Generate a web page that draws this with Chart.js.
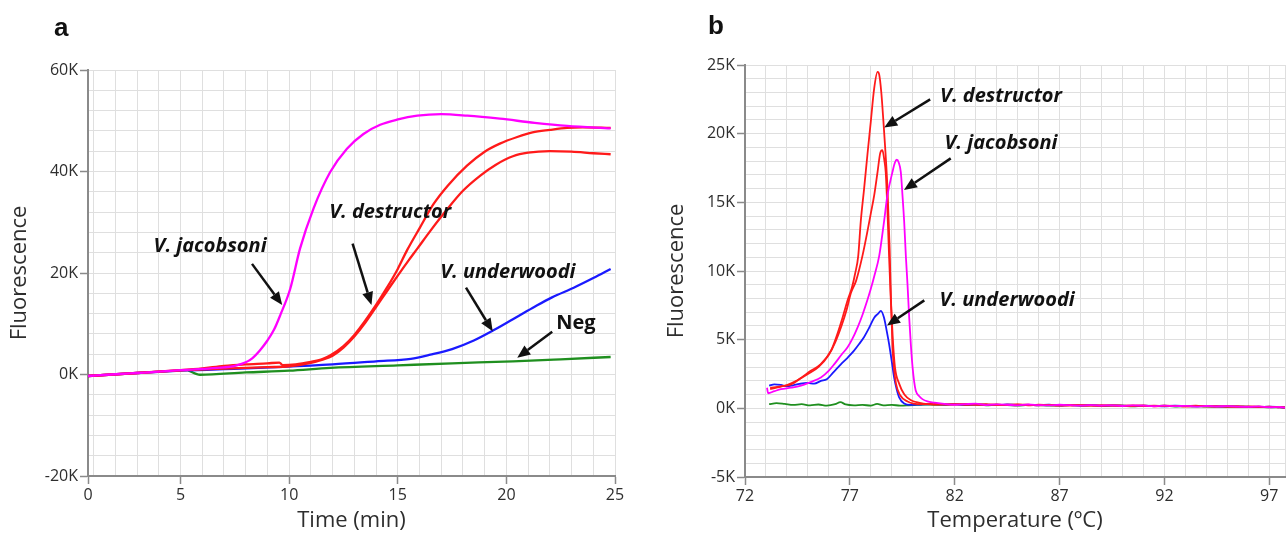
<!DOCTYPE html>
<html>
<head>
<meta charset="utf-8">
<script src="https://cdn.jsdelivr.net/npm/chart.js@4.4.0/dist/chart.umd.min.js"></script>
<style>
  html, body { margin: 0; padding: 0; background: #fff; }
  #wrap { position: relative; width: 1288px; height: 534px; overflow: hidden; }
  canvas { position: absolute; top: 0; }
  #cA { left: 0; }
  #cB { left: 640px; }
  .panel { position: absolute; font: bold 26px "Liberation Sans", Arial, sans-serif; line-height: 26px; color: #111; }
</style>
</head>
<body>
<div id="wrap">
  <canvas id="cA" width="640" height="534"></canvas>
  <canvas id="cB" width="648" height="534"></canvas>
  <div class="panel" style="left:54px; top:14px">a</div>
  <div class="panel" style="left:708px; top:12px">b</div>
</div>
<script>
// ─── panel a: amplification, fluorescence (K) vs time (min) ─────────
const tMagA = [0.74, 2, 3, 4, 5, 6, 7, 7.5, 8, 8.3, 8.66, 9, 9.3, 9.6, 10.05, 10.5, 11.12, 11.89, 12.66, 13.42, 14.19, 14.96, 15.9, 17, 18.2, 19.7, 21.3, 22.8, 24.8];
const fMagA = [-0.3, 0.05, 0.3, 0.55, 0.85, 1.1, 1.4, 1.7, 2.4, 3.2, 4.8, 6.7, 8.8, 11.8, 16.9, 24.8, 32.7, 39.9, 44.5, 47.4, 49.2, 50.2, 51.0, 51.3, 51.0, 50.4, 49.6, 49.0, 48.5];

const tRed1A = [0.74, 3, 5, 6, 7, 8, 9, 9.55, 9.7, 10.3, 11, 11.5, 11.9, 12.5, 13, 13.5, 14, 14.5, 15, 15.43, 16, 16.65, 17.3, 18.2, 19, 19.7, 20.5, 21.2, 22, 22.8, 23.5, 24.8];
const fRed1A = [-0.3, 0.3, 0.85, 1.2, 1.7, 2.0, 2.2, 2.35, 1.85, 2.0, 2.5, 3.0, 3.8, 5.6, 7.8, 10.6, 13.7, 17.1, 20.8, 24.5, 28.8, 33.6, 37.2, 41.2, 43.9, 45.5, 46.8, 47.7, 48.2, 48.6, 48.7, 48.6];

const tRed2A = [0.74, 3, 5, 7, 9, 10, 11, 11.5, 12, 12.5, 13, 13.5, 14, 14.5, 15, 15.5, 15.9, 16.5, 17.3, 18, 18.8, 19.5, 20.3, 21, 22, 23, 24, 24.8];
const fRed2A = [-0.3, 0.3, 0.8, 1.15, 1.45, 1.6, 2.3, 2.9, 3.7, 5.3, 7.5, 10.2, 13.3, 16.4, 19.5, 22.5, 24.8, 28.3, 32.7, 36.2, 39.2, 41.3, 43.0, 43.7, 44.0, 43.9, 43.6, 43.4];

const tBlueA = [0.74, 3, 5, 7, 9.7, 12, 14, 15.6, 16.5, 17.5, 18.5, 19.4, 20.3, 21.2, 22.1, 23.1, 24, 24.8];
const fBlueA = [-0.3, 0.3, 0.75, 1.05, 1.5, 2.0, 2.6, 3.1, 3.9, 5.0, 6.7, 8.7, 10.9, 13.1, 15.2, 17.1, 19.0, 20.8];

const tGreenA = [5.36, 5.9, 8, 10, 11.9, 15, 17.5, 20.3, 22.5, 24.8];
const fGreenA = [0.8, -0.05, 0.4, 0.75, 1.3, 1.8, 2.2, 2.6, 3.0, 3.45];

const xTicksA = [0.74, 5, 10, 15, 20, 25];
const xTickLabelsA = ["0", "5", "10", "15", "20", "25"];
const yTicksA = [-20, 0, 20, 40, 60];
const yTickLabelsA = ["-20K", "0K", "20K", "40K", "60K"];

// ─── panel b: melt curves, fluorescence (K) vs temperature ──────────
const tRedAB = [73.2, 73.7, 74.2, 74.7, 75.1, 75.6, 76.1, 76.4, 76.65, 76.9, 77.1, 77.25, 77.4, 77.52, 77.68, 77.84, 78.0, 78.16, 78.32, 78.4, 78.5, 78.6, 78.7, 78.8, 78.9, 78.95, 79.03, 79.1, 79.2, 79.4, 79.75, 80.4, 81.0];
const fRedAB = [1.5, 1.6, 1.75, 2.25, 2.7, 3.2, 4.2, 5.4, 6.6, 7.9, 8.8, 9.8, 11.1, 13.6, 16.0, 18.5, 20.9, 23.3, 24.5, 24.3, 23.0, 20.9, 18.6, 15.8, 11.5, 8.5, 4.6, 3.0, 1.8, 0.95, 0.5, 0.3, 0.32];

const tRedBB = [73.2, 73.5, 74.0, 74.5, 75.0, 75.5, 76.0, 76.3, 76.6, 76.85, 77.05, 77.3, 77.6, 77.84, 78.0, 78.16, 78.32, 78.45, 78.55, 78.65, 78.71, 78.79, 78.87, 78.95, 79.05, 79.15, 79.35, 79.6, 79.9, 80.5, 81.0];
const fRedBB = [1.4, 1.5, 1.7, 2.05, 2.5, 3.0, 3.9, 4.8, 6.0, 7.2, 8.4, 9.3, 11.1, 12.9, 14.2, 15.5, 17.2, 18.6, 18.8, 18.0, 17.2, 14.5, 11.1, 8.0, 5.0, 3.0, 1.8, 1.0, 0.6, 0.35, 0.28];

const tMagB = [73.05, 73.1, 73.4, 73.71, 74.2, 74.67, 75.1, 75.62, 76.0, 76.25, 76.6, 76.89, 77.1, 77.37, 77.6, 77.84, 78.0, 78.16, 78.4, 78.63, 78.79, 79.03, 79.15, 79.24, 79.33, 79.43, 79.51, 79.59, 79.67, 79.75, 79.83, 79.91, 79.99, 80.07, 80.14, 80.3, 80.46, 80.7, 81.02];
const fMagB = [1.5, 1.1, 1.25, 1.4, 1.5, 1.65, 1.9, 2.25, 2.75, 3.2, 3.9, 4.45, 5.0, 5.9, 6.8, 7.9, 8.7, 9.6, 11.1, 13.6, 15.5, 17.2, 17.9, 18.1, 17.9, 17.2, 15.5, 13.6, 11.1, 9.0, 6.6, 4.6, 3.0, 1.9, 1.3, 0.9, 0.67, 0.5, 0.42];

const tBlueB = [73.15, 73.4, 73.71, 74.0, 74.3, 74.6, 74.98, 75.3, 75.62, 75.9, 76.2, 76.57, 76.9, 77.2, 77.45, 77.68, 77.9, 78.16, 78.35, 78.48, 78.63, 78.75, 78.87, 79.0, 79.11, 79.23, 79.35, 79.59, 79.9, 80.4, 81.0];
const fBlueB = [1.65, 1.75, 1.7, 1.6, 1.68, 1.78, 1.85, 1.8, 2.0, 2.12, 2.6, 3.2, 3.7, 4.2, 4.7, 5.2, 5.8, 6.6, 6.9, 7.1, 6.6, 5.7, 4.7, 3.4, 2.25, 1.4, 0.8, 0.35, 0.25, 0.28, 0.3];

const tGreenB = [73.15, 73.5, 73.9, 74.3, 74.7, 75.1, 75.5, 75.9, 76.3, 76.55, 76.8, 77.2, 77.6, 78.0, 78.3, 78.6, 79.0, 79.4, 79.8, 80.2, 80.6, 81.0];
const fGreenB = [0.3, 0.38, 0.32, 0.25, 0.3, 0.22, 0.28, 0.2, 0.3, 0.45, 0.28, 0.22, 0.25, 0.2, 0.32, 0.22, 0.25, 0.2, 0.22, 0.25, 0.28, 0.26];

// shared flat tail after the melt, one noisy trace per sample
const tailTempsB = [81.5, 82, 82.5, 83, 83.5, 84, 84.5, 85, 85.5, 86, 86.5, 87, 87.5, 88, 88.5, 89, 89.5, 90, 90.5, 91, 91.5, 92, 92.5, 93, 93.5, 94, 94.5, 95, 95.5, 96, 96.5, 97, 97.5, 97.75];
const tailRedAB = [0.3, 0.28, 0.33, 0.26, 0.3, 0.24, 0.27, 0.29, 0.22, 0.26, 0.24, 0.2, 0.25, 0.22, 0.19, 0.23, 0.2, 0.18, 0.22, 0.17, 0.2, 0.16, 0.18, 0.15, 0.19, 0.14, 0.16, 0.12, 0.15, 0.11, 0.13, 0.09, 0.1, 0.05];
const tailRedBB = [0.27, 0.31, 0.26, 0.3, 0.25, 0.28, 0.23, 0.26, 0.27, 0.21, 0.25, 0.23, 0.2, 0.24, 0.21, 0.18, 0.22, 0.2, 0.17, 0.21, 0.15, 0.19, 0.17, 0.14, 0.16, 0.17, 0.13, 0.15, 0.11, 0.14, 0.1, 0.12, 0.07, 0.06];
const tailMagB = [0.32, 0.26, 0.3, 0.34, 0.24, 0.29, 0.26, 0.22, 0.28, 0.24, 0.21, 0.26, 0.23, 0.19, 0.24, 0.2, 0.22, 0.17, 0.21, 0.19, 0.15, 0.2, 0.16, 0.18, 0.13, 0.17, 0.14, 0.16, 0.12, 0.1, 0.14, 0.08, 0.11, 0.04];
const tailBlueB = [0.28, 0.3, 0.25, 0.28, 0.27, 0.23, 0.28, 0.24, 0.25, 0.22, 0.27, 0.2, 0.23, 0.21, 0.24, 0.19, 0.21, 0.2, 0.16, 0.2, 0.18, 0.15, 0.19, 0.16, 0.14, 0.17, 0.12, 0.15, 0.13, 0.12, 0.09, 0.12, 0.08, 0.06];
const tailGreenB = [0.25, 0.29, 0.24, 0.27, 0.22, 0.26, 0.24, 0.2, 0.25, 0.23, 0.19, 0.22, 0.24, 0.18, 0.21, 0.17, 0.2, 0.19, 0.15, 0.18, 0.16, 0.19, 0.13, 0.16, 0.15, 0.12, 0.15, 0.11, 0.13, 0.1, 0.12, 0.07, 0.09, 0.04];

const xTicksB = [72, 77, 82, 87, 92, 97];
const xTickLabelsB = ["72", "77", "82", "87", "92", "97"];
const yTicksB = [-5, 0, 5, 10, 15, 20, 25];
const yTickLabelsB = ["-5K", "0K", "5K", "10K", "15K", "20K", "25K"];

const MAGENTA = "#ff00ff", RED = "#ff1a1a", BLUE = "#1a1aff", GREEN = "#1f8f1f";
const FONT = "'Open Sans', 'DejaVu Sans', sans-serif";

// ─── helpers ─────────────────────────────────────────────────────────
const pts = (xs, ys) => xs.map((x, i) => ({ x, y: ys[i] }));

// one grid line per step, plus the axis ends
function gridTicks(min, max, step) {
    const out = [{ value: min }];
    for (let v = Math.ceil(min / step - 1e-9) * step; v <= max + 1e-9; v += step) {
        if (Math.abs(v - min) > 1e-6) out.push({ value: +v.toFixed(4) });
    }
    if (Math.abs(out[out.length - 1].value - max) > 1e-6) out.push({ value: max });
    return out;
}

function axis({ min, max, step, tickVals, tickLabels, title, size, horizontal }) {
    const idx = v => tickVals.findIndex(t => Math.abs(t - v) < 1e-6);
    return {
        type: "linear",
        min, max,
        afterBuildTicks: s => { s.ticks = gridTicks(min, max, step); },
        afterFit: s => { if (horizontal) s.height = size; else s.width = size; },
        grid: {
            color: "#dfdfdf",
            lineWidth: 1,
            tickLength: 8,
            tickWidth: 1.5,
            tickColor: c => (c.tick && idx(c.tick.value) >= 0 ? "#8a8a8a" : "rgba(0,0,0,0)"),
        },
        border: { color: "#8a8a8a", width: 2 },
        ticks: {
            autoSkip: false, maxRotation: 0, minRotation: 0, padding: 2,
            color: "#2e2e2e", font: { family: FONT, size: 16 },
            callback: v => { const i = idx(v); return i < 0 ? "" : tickLabels[i]; },
        },
        title: {
            display: true, text: title, color: "#2e2e2e",
            font: { family: FONT, size: 22 }, padding: { top: 0, bottom: 0 },
        },
    };
}

function line(data, color, width) {
    return {
        data, borderColor: color, borderWidth: width,
        pointRadius: 0, fill: false, cubicInterpolationMode: "monotone",
    };
}

// ─── text + arrow annotations, placed in data coordinates ───────────
const arrowNotes = {
    id: "arrowNotes",
    afterDatasetsDraw(chart, args, opts) {
        const { ctx, scales: { x, y } } = chart;
        ctx.save();
        ctx.fillStyle = "#111";
        ctx.strokeStyle = "#111";
        ctx.textAlign = "center";
        ctx.textBaseline = "middle";
        opts.items.forEach(n => {
            ctx.font = (n.upright ? "" : "italic ") + "bold 20px " + FONT;
            ctx.fillText(n.text, x.getPixelForValue(n.at[0]), y.getPixelForValue(n.at[1]));
            const x0 = x.getPixelForValue(n.from[0]), y0 = y.getPixelForValue(n.from[1]);
            const x1 = x.getPixelForValue(n.to[0]), y1 = y.getPixelForValue(n.to[1]);
            const a = Math.atan2(y1 - y0, x1 - x0), head = 13, half = 5.5;
            const bx = x1 - head * Math.cos(a), by = y1 - head * Math.sin(a);
            ctx.lineWidth = 2.5;
            ctx.beginPath();
            ctx.moveTo(x0, y0);
            ctx.lineTo(bx, by);
            ctx.stroke();
            ctx.beginPath();
            ctx.moveTo(x1, y1);
            ctx.lineTo(bx + half * Math.sin(a), by - half * Math.cos(a));
            ctx.lineTo(bx - half * Math.sin(a), by + half * Math.cos(a));
            ctx.closePath();
            ctx.fill();
        });
        ctx.restore();
    },
};

const common = {
    responsive: false,
    animation: false,
    events: [],
    plugins: { legend: { display: false }, tooltip: { enabled: false } },
};

// ─── panel a ─────────────────────────────────────────────────────────
new Chart(document.getElementById("cA"), {
    type: "line",
    data: {
        datasets: [
            line(pts(tMagA, fMagA), MAGENTA, 2.3),
            line(pts(tRed1A, fRed1A), RED, 2.3),
            line(pts(tRed2A, fRed2A), RED, 2.3),
            line(pts(tBlueA, fBlueA), BLUE, 2.3),
            line(pts(tGreenA, fGreenA), GREEN, 2.3),
        ],
    },
    options: {
        ...common,
        layout: { padding: { left: 7, top: 70, right: 25, bottom: 0 } },
        scales: {
            x: axis({ min: 0.74, max: 25, step: 1, tickVals: xTicksA, tickLabels: xTickLabelsA, title: "Time (min)", size: 58, horizontal: true }),
            y: axis({ min: -20, max: 60, step: 4, tickVals: yTicksA, tickLabels: yTickLabelsA, title: "Fluorescence", size: 81 }),
        },
        plugins: {
            ...common.plugins,
            arrowNotes: {
                items: [
                    { text: "V. jacobsoni", at: [6.36, 25.3], from: [8.29, 21.8], to: [9.68, 13.7] },
                    { text: "V. destructor", at: [14.65, 32.0], from: [12.92, 25.8], to: [13.79, 13.7] },
                    { text: "V. underwoodi", at: [20.07, 20.2], from: [18.14, 17.1], to: [19.37, 8.5] },
                    { text: "Neg", at: [23.2, 10.0], from: [22.11, 8.4], to: [20.5, 3.3], upright: true },
                ],
            },
        },
    },
    plugins: [arrowNotes],
});

// ─── panel b ─────────────────────────────────────────────────────────
new Chart(document.getElementById("cB"), {
    type: "line",
    data: {
        datasets: [
            line(pts(tMagB.concat(tailTempsB), fMagB.concat(tailMagB)), MAGENTA, 1.8),
            line(pts(tRedAB.concat(tailTempsB), fRedAB.concat(tailRedAB)), RED, 1.8),
            line(pts(tRedBB.concat(tailTempsB), fRedBB.concat(tailRedBB)), RED, 1.8),
            line(pts(tBlueB.concat(tailTempsB), fBlueB.concat(tailBlueB)), BLUE, 1.8),
            line(pts(tGreenB.concat(tailTempsB), fGreenB.concat(tailGreenB)), GREEN, 1.8),
        ],
    },
    options: {
        ...common,
        layout: { padding: { left: 24, top: 65, right: 3, bottom: 0 } },
        scales: {
            x: axis({ min: 72, max: 97.75, step: 1, tickVals: xTicksB, tickLabels: xTickLabelsB, title: "Temperature (ºC)", size: 57, horizontal: true }),
            y: axis({ min: -5, max: 25, step: 1, tickVals: yTicksB, tickLabels: yTickLabelsB, title: "Fluorescence", size: 81 }),
        },
        plugins: {
            ...common.plugins,
            arrowNotes: {
                items: [
                    { text: "V. destructor", at: [84.21, 22.7], from: [80.83, 22.5], to: [78.64, 20.45] },
                    { text: "V. jacobsoni", at: [84.21, 19.3], from: [81.81, 18.2], to: [79.58, 15.9] },
                    { text: "V. underwoodi", at: [84.5, 7.84], from: [80.55, 7.86], to: [78.77, 6.03] },
                ],
            },
        },
    },
    plugins: [arrowNotes],
});
</script>
</body>
</html>
